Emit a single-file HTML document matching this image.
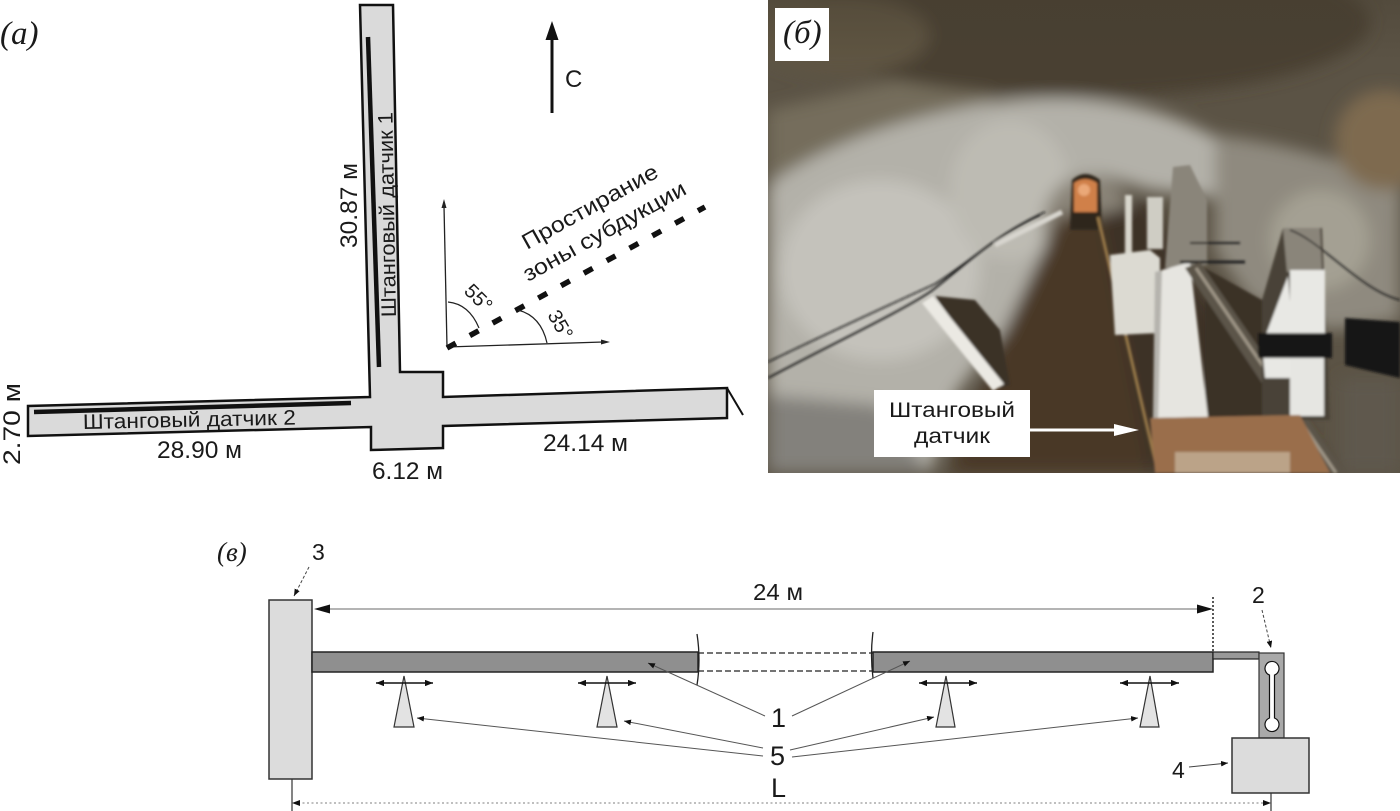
<!DOCTYPE html>
<html><head><meta charset="utf-8"><style>
html,body{margin:0;padding:0;background:#fff;}
svg{display:block;}
text{font-family:"Liberation Sans",Arial,sans-serif;fill:#1a1a1a;}
.it{font-family:"Liberation Serif",serif;font-style:italic;}
</style></head><body>
<svg width="1400" height="811" viewBox="0 0 1400 811" xmlns="http://www.w3.org/2000/svg">
<defs>
 <clipPath id="pc"><rect x="768" y="0" width="632" height="473"/></clipPath>
 <filter id="b8" x="-20%" y="-20%" width="140%" height="140%"><feGaussianBlur stdDeviation="8"/></filter>
 <filter id="b2" x="-20%" y="-20%" width="140%" height="140%"><feGaussianBlur stdDeviation="1.2"/></filter>
 <linearGradient id="ceil" x1="0" y1="0" x2="0" y2="1">
  <stop offset="0" stop-color="#463e30"/><stop offset="1" stop-color="#463e30" stop-opacity="0"/>
 </linearGradient>
 <marker id="da" viewBox="0 0 10 8" refX="10" refY="4" markerWidth="8" markerHeight="6.4" orient="auto-start-reverse" markerUnits="userSpaceOnUse"><path d="M0,0 L10,4 L0,8 z" fill="#111"/></marker>
 <marker id="sa" viewBox="0 0 10 8" refX="10" refY="4" markerWidth="7" markerHeight="5.6" orient="auto" markerUnits="userSpaceOnUse"><path d="M0,0 L10,4 L0,8 z" fill="#111"/></marker>
</defs>

<!-- ===== Panel (a) ===== -->
<text class="it" x="0" y="44" font-size="33">(а)</text>
<polygon points="360,5 393,5 400,372 443,372 443,397 727,388 727,418 443,426 443,448 371,450 371,427 28,436 28,406 370,397" fill="#dadada" stroke="#111" stroke-width="2.5"/>
<line x1="727" y1="388" x2="743" y2="415" stroke="#111" stroke-width="2"/>
<line x1="368" y1="37" x2="379" y2="367" stroke="#111" stroke-width="4.5"/>
<line x1="34" y1="412" x2="351" y2="403" stroke="#111" stroke-width="4.5"/>

<text x="83" y="429" font-size="21" textLength="213" lengthAdjust="spacingAndGlyphs" transform="rotate(-1.2 83 429)">Штанговый датчик 2</text>
<text font-size="21" textLength="205" lengthAdjust="spacingAndGlyphs" transform="translate(396,317) rotate(-91)">Штанговый датчик 1</text>
<text font-size="24" textLength="85" lengthAdjust="spacingAndGlyphs" transform="translate(357,248) rotate(-90)">30.87 м</text>
<text font-size="24" textLength="82" lengthAdjust="spacingAndGlyphs" transform="translate(20,465) rotate(-90)">2.70 м</text>
<text x="157" y="458" font-size="24" textLength="85" lengthAdjust="spacingAndGlyphs">28.90 м</text>
<text x="372" y="479" font-size="24" textLength="71" lengthAdjust="spacingAndGlyphs">6.12 м</text>
<text x="543" y="451" font-size="24" textLength="85" lengthAdjust="spacingAndGlyphs">24.14 м</text>

<!-- north arrow -->
<line x1="552" y1="113" x2="552" y2="36" stroke="#111" stroke-width="3"/>
<polygon points="545.5,40 552,21 558.5,40" fill="#111"/>
<text x="565" y="87" font-size="24">С</text>

<!-- axes -->
<line x1="447" y1="347" x2="444" y2="206" stroke="#222" stroke-width="1.3"/>
<polygon points="441.5,208 444,199 446.5,208" fill="#222"/>
<line x1="447" y1="347" x2="603" y2="342" stroke="#222" stroke-width="1.3"/>
<polygon points="601,339.5 610,342 601,344.5" fill="#222"/>
<line x1="447" y1="348" x2="705" y2="207" stroke="#111" stroke-width="5.5" stroke-dasharray="10 16"/>
<path d="M448,302 Q469,304 479,328" fill="none" stroke="#222" stroke-width="1.2"/>
<path d="M518,310 Q541,316 547,343" fill="none" stroke="#222" stroke-width="1.2"/>
<text font-size="20" transform="translate(463,292) rotate(45)">55°</text>
<text font-size="20" transform="translate(547,315) rotate(60)">35°</text>
<text font-size="22" textLength="152" lengthAdjust="spacingAndGlyphs" transform="translate(527,250) rotate(-29)">Простирание</text>
<text font-size="22" textLength="183" lengthAdjust="spacingAndGlyphs" transform="translate(528,282) rotate(-29)">зоны субдукции</text>

<!-- ===== Panel (б) photo ===== -->
<g clip-path="url(#pc)">
 <rect x="768" y="0" width="632" height="473" fill="#5b5345"/>
 <g filter="url(#b8)">
  <path d="M768,110 L900,80 L1000,95 L900,150 L768,180 Z" fill="#746d5c"/>
  <path d="M768,185 C830,140 920,112 1010,100 C1090,92 1160,105 1220,140 L1240,200 L1150,190 L1100,175 L1065,200 L1060,330 L1000,335 L955,395 L930,473 L768,473 Z" fill="#b3b1a9"/>
  <ellipse cx="880" cy="270" rx="100" ry="90" fill="#c4c2bb"/>
  <ellipse cx="1010" cy="190" rx="60" ry="70" fill="#bdbbb3"/>
  <path d="M768,395 L880,405 L930,473 L768,473 Z" fill="#83817b"/>
  <path d="M1215,135 C1300,145 1370,170 1400,185 L1400,320 L1330,330 L1250,300 L1215,250 Z" fill="#8f8a7f"/>
  <ellipse cx="1320" cy="240" rx="50" ry="50" fill="#a4a093"/>
  <ellipse cx="1385" cy="140" rx="50" ry="50" fill="#7e6a50"/>
  <ellipse cx="1080" cy="22" rx="290" ry="75" fill="#4a4133"/>
  <ellipse cx="840" cy="35" rx="90" ry="40" fill="#5e5443"/>
  <ellipse cx="1088" cy="225" rx="45" ry="50" fill="#8a8478"/>
  <path d="M1060,215 L1100,215 L1150,473 L950,473 L1000,340 Z" fill="#4a3825"/>
  <path d="M1100,215 L1150,200 L1180,260 L1335,473 L1150,473 Z" fill="#3d3327"/>
  <path d="M1340,378 L1400,378 L1400,473 L1340,473 Z" fill="#5e584e"/>
 </g>
 <g filter="url(#b2)">
  <path d="M1072,180 Q1085,168 1100,180 L1102,230 L1070,230 Z" fill="#2e261c"/>
  <path d="M1074,183 Q1085,175 1097,183 L1097,212 L1074,212 Z" fill="#d08048"/>
  <ellipse cx="1084" cy="190" rx="6" ry="6" fill="#eaa878"/>
  <!-- cables left -->
  <path d="M768,378 C830,345 900,312 930,292 C960,270 990,238 1040,215" fill="none" stroke="#161616" stroke-width="1.8"/>
  <path d="M768,362 C830,332 900,300 935,284 C970,262 1000,232 1045,212" fill="none" stroke="#161616" stroke-width="1.5"/>
  <line x1="995" y1="245" x2="1062" y2="212" stroke="#d8d6cf" stroke-width="5"/>
  <!-- beam + dark box -->
  <polygon points="935,296 975,300 1000,330 1010,385 1000,388" fill="#3a3126"/>
  <polygon points="922,303 933,296 1004,384 993,391" fill="#ebe9e3"/>
  <!-- dark between posts -->
  <polygon points="1205,268 1262,300 1262,473 1205,473" fill="#3a3025"/>
  <!-- rod rail -->
  <line x1="1098" y1="217" x2="1158" y2="473" stroke="#9a7a48" stroke-width="3"/>
  <!-- distant posts -->
  <rect x="1125" y="195" width="7" height="60" fill="#d8d6cc"/>
  <rect x="1147" y="197" width="16" height="52" fill="#cfcdc4"/>
  <!-- white block -->
  <polygon points="1110,255 1150,250 1160,258 1160,333 1115,335" fill="#dcdad2"/>
  <!-- post 1 -->
  <polygon points="1173,167 1190,165 1207,200 1207,265 1165,268" fill="#8a857a"/>
  <polygon points="1155,272 1163,270 1160,418 1153,418" fill="#b5b3ad"/>
  <polygon points="1162,270 1190,262 1208,417 1158,418" fill="#e6e5e0"/>
  <line x1="1180" y1="262" x2="1245" y2="262" stroke="#222" stroke-width="3"/>
  <line x1="1190" y1="243" x2="1240" y2="243" stroke="#222" stroke-width="2"/>
  <!-- pipe -->
  <polygon points="1185,268 1200,262 1345,473 1322,473" fill="#5c544a"/>
  <line x1="1196" y1="268" x2="1336" y2="473" stroke="#a09888" stroke-width="3"/>
  <!-- post 2 -->
  <polygon points="1262,300 1283,228 1322,228 1330,420 1262,420" fill="#4a4238"/>
  <polygon points="1283,228 1320,228 1322,272 1287,272" fill="#8a857a"/>
  <polygon points="1262,345 1288,276 1296,378 1265,378" fill="#e8e8e4"/>
  <rect x="1290" y="270" width="35" height="65" fill="#e8e8e4"/>
  <rect x="1258" y="333" width="74" height="25" fill="#141414"/>
  <rect x="1290" y="358" width="34" height="58" fill="#e6e6e2"/>
  <polygon points="1345,318 1400,322 1400,378 1345,365" fill="#121212"/>
  <!-- bottom box -->
  <polygon points="1150,418 1300,415 1330,473 1155,473" fill="#9a6e4c"/>
  <rect x="1175" y="452" width="115" height="21" fill="#c9b9a2" opacity="0.7"/>
  <path d="M1290,230 C1320,240 1360,290 1400,300" fill="none" stroke="#1a1a1a" stroke-width="1.5"/>
 </g>
 <rect x="768" y="0" width="632" height="60" fill="url(#ceil)" opacity="0.4"/>
</g>
<rect x="775" y="8" width="54" height="53" fill="#fff"/>
<text class="it" x="783" y="43" font-size="33">(б)</text>
<rect x="874" y="390" width="156" height="67" fill="#fff"/>
<text x="889" y="417" font-size="21" textLength="126" lengthAdjust="spacingAndGlyphs">Штанговый</text>
<text x="914" y="443" font-size="21" textLength="76" lengthAdjust="spacingAndGlyphs">датчик</text>
<line x1="1030" y1="430" x2="1118" y2="430" stroke="#fff" stroke-width="3"/>
<polygon points="1114,424 1139,430 1114,436" fill="#fff"/>

<!-- ===== Panel (в) ===== -->
<text class="it" x="217" y="561" font-size="27">(в)</text>
<text x="312" y="560" font-size="23">3</text>
<line x1="309" y1="567" x2="294" y2="596" stroke="#444" stroke-width="1" stroke-dasharray="3 2" marker-end="url(#sa)"/>
<rect x="269" y="600" width="43" height="179" fill="#dcdcdc" stroke="#333" stroke-width="1.5"/>
<line x1="292" y1="779" x2="292" y2="811" stroke="#333" stroke-width="1.2"/>

<line x1="318" y1="609" x2="1208" y2="609" stroke="#888" stroke-width="1.2"/>
<polygon points="314,609 330,604.5 330,613.5" fill="#111"/>
<polygon points="1213,609 1197,604.5 1197,613.5" fill="#111"/>
<text x="753" y="600" font-size="23" textLength="50" lengthAdjust="spacingAndGlyphs">24 м</text>
<line x1="1213" y1="597" x2="1213" y2="652" stroke="#222" stroke-width="1.5" stroke-dasharray="2 2"/>

<rect x="312" y="652" width="386" height="20" fill="#8f8f8f" stroke="#222" stroke-width="1.5"/>
<rect x="873" y="652" width="340" height="20" fill="#8f8f8f" stroke="#222" stroke-width="1.5"/>
<line x1="698" y1="653" x2="873" y2="653" stroke="#222" stroke-width="1.3" stroke-dasharray="6 3"/>
<line x1="698" y1="671" x2="873" y2="671" stroke="#222" stroke-width="1.3" stroke-dasharray="6 3"/>
<path d="M697,634 Q701,660 697,685" fill="none" stroke="#222" stroke-width="1.3"/>
<path d="M873,632 Q870,655 873,678" fill="none" stroke="#222" stroke-width="1.3"/>
<rect x="1213" y="652" width="46" height="7" fill="#999" stroke="#222" stroke-width="1.2"/>
<rect x="1259" y="653" width="25" height="85" fill="#a9a9a9" stroke="#333" stroke-width="1.2"/>
<path d="M1269.5,675 L1269.5,718 A7,7 0 1 0 1274.5,718 L1274.5,675 A7,7 0 1 0 1269.5,675 Z" fill="#fff" stroke="#111" stroke-width="1.2"/>
<rect x="1232" y="738" width="77" height="55" fill="#dcdcdc" stroke="#333" stroke-width="1.5"/>
<text x="1252" y="603" font-size="23">2</text>
<line x1="1262" y1="610" x2="1271" y2="648" stroke="#444" stroke-width="1" stroke-dasharray="3 2" marker-end="url(#sa)"/>
<text x="1172" y="778" font-size="23">4</text>
<line x1="1189" y1="767" x2="1228" y2="763" stroke="#444" stroke-width="1" marker-end="url(#sa)"/>
<line x1="1271" y1="793" x2="1271" y2="811" stroke="#333" stroke-width="1.2"/>

<!-- supports -->
<polygon points="404,676 414,727 394,727" fill="#e3e3e3" stroke="#333" stroke-width="1.2"/>
<polygon points="607,676 617,727 597,727" fill="#e3e3e3" stroke="#333" stroke-width="1.2"/>
<polygon points="946,676 955,727 936,727" fill="#e3e3e3" stroke="#333" stroke-width="1.2"/>
<polygon points="1150,676 1159,727 1140,727" fill="#e3e3e3" stroke="#333" stroke-width="1.2"/>
<line x1="376" y1="683" x2="433" y2="683" stroke="#111" stroke-width="1.5" marker-start="url(#da)" marker-end="url(#da)"/>
<line x1="578" y1="683" x2="636" y2="683" stroke="#111" stroke-width="1.5" marker-start="url(#da)" marker-end="url(#da)"/>
<line x1="919" y1="683" x2="977" y2="683" stroke="#111" stroke-width="1.5" marker-start="url(#da)" marker-end="url(#da)"/>
<line x1="1120" y1="683" x2="1179" y2="683" stroke="#111" stroke-width="1.5" marker-start="url(#da)" marker-end="url(#da)"/>

<!-- labels 1, 5, L -->
<text x="771" y="727" font-size="27">1</text>
<text x="770" y="765" font-size="27">5</text>
<text x="771" y="797" font-size="27">L</text>
<line x1="765" y1="716" x2="648" y2="663" stroke="#555" stroke-width="1" marker-end="url(#sa)"/>
<line x1="792" y1="716" x2="910" y2="661" stroke="#555" stroke-width="1" marker-end="url(#sa)"/>
<line x1="763" y1="748" x2="624" y2="721" stroke="#555" stroke-width="1" marker-end="url(#sa)"/>
<line x1="763" y1="756" x2="417" y2="718" stroke="#555" stroke-width="1" marker-end="url(#sa)"/>
<line x1="790" y1="750" x2="934" y2="717" stroke="#555" stroke-width="1" marker-end="url(#sa)"/>
<line x1="792" y1="757" x2="1138" y2="718" stroke="#555" stroke-width="1" marker-end="url(#sa)"/>

<line x1="298" y1="803" x2="1266" y2="803" stroke="#999" stroke-width="1.2" stroke-dasharray="2 2.5"/>
<polygon points="292,803 300,800 300,806" fill="#111"/>
<polygon points="1271,803 1263,800 1263,806" fill="#111"/>
</svg>
</body></html>
